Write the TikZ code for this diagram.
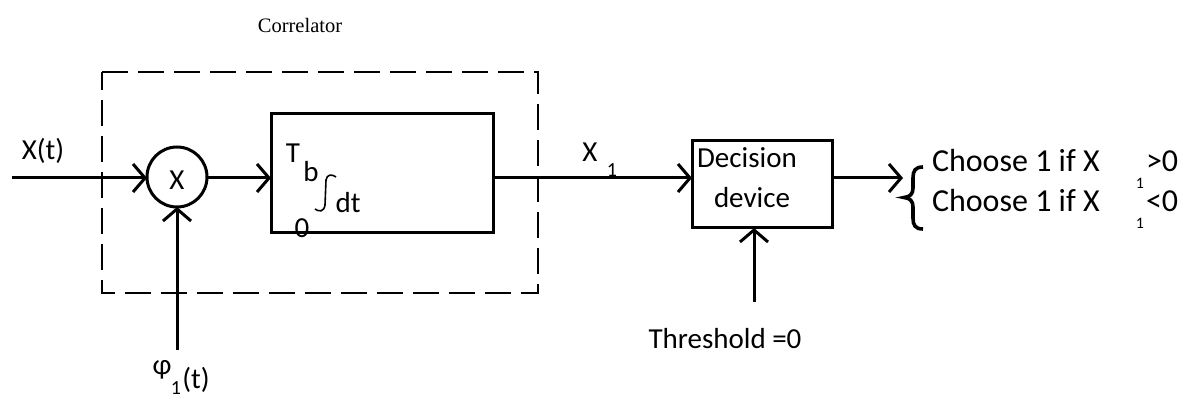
\documentclass[tikz,border=0pt]{standalone}
\usepackage{fontspec}
\setmainfont{Carlito}
\newfontfamily\tms{Liberation Serif}
\usetikzlibrary{arrows.meta}
\begin{document}
\begin{tikzpicture}[x=1pt,y=-1pt,
  every node/.style={inner sep=0pt,outer sep=0pt},
  txt/.style={font=\fontsize{29}{34}\selectfont},
  big/.style={font=\fontsize{32}{38}\selectfont},
  small/.style={font=\fontsize{16}{18}\selectfont},
  blk/.style={draw,line width=3pt,rectangle},
  sig/.style={line width=3pt,-{Straight Barb[length=12pt,width=28pt,line width=3pt]}},
  wire/.style={line width=3pt}]
\useasboundingbox (0,0) rectangle (1189,398);
% correlator frame
\draw[line width=2.2pt,dash pattern=on 26pt off 10pt] (102,72) -- (538,72) -- (538,293) -- (102,293) -- cycle;
\node[minimum width=436pt,minimum height=221pt] (corr) at (320,182.5) {};
\node[font=\tms\fontsize{20.5}{24}\selectfont] (corrlbl) at (300,25) {Correlator};
% multiplier
\node[draw,circle,line width=3pt,minimum size=60pt] (mul) at (177,177) {};
\node[txt] (mullbl) at (177,180) {X};
% integrator
\node[blk,minimum width=222pt,minimum height=119pt] (integ) at (382,173.5) {};
\node[txt] (T) at (293,153) {T};
\node[txt] (b) at (311,172) {b};
\node[txt] (dt) at (348,203) {dt};
\node[txt] (zero) at (302,228) {0};
\draw[line width=1.6pt] (336,177) .. controls (332,174) and (327,174) .. (326,180) -- (325,205) .. controls (324,212) and (319,212) .. (315,209);
% decision
\node[blk,minimum width=140pt,minimum height=87pt] (dec) at (762,184.5) {};
\node[txt] (declbl) at (747,158) {Decision};
\node[txt] (declbl2) at (752,198) {device};
% inputs
\coordinate (in) at (12,178);
\node[txt] (xt) at (43,151) {X(t)};
\draw[sig] (in) -- (mul.west |- in);
\coordinate (phis) at (177,350);
\draw[sig] (phis) -- (mul.south);
\node[txt] (phi) at (162,370) {φ};
\node[font=\fontsize{20}{24}\selectfont] (phisub) at (176,388) {1};
\node[txt] (phit) at (196,380) {(t)};
% main chain
\draw[sig] (mul.east |- in) -- (integ.west |- in);
\draw[sig] (integ.east |- in) -- (dec.west |- in);
\node[txt] (x1) at (590,152) {X};
\node[font=\fontsize{20}{24}\selectfont] (x1sub) at (612,170) {1};
% threshold
\coordinate (ths) at (754,302);
\draw[sig] (ths) -- (dec.south -| ths);
\node[txt] (thlbl) at (725,339) {Threshold =0};
% output
\coordinate (outend) at (903,178);
\draw[sig] (dec.east |- outend) -- (outend);
\draw[line width=3.6pt] (923,167) .. controls (915,167) and (913,171) .. (913,178) -- (913,188)
  .. controls (913,194) and (910,197) .. (904,197.5)
  .. controls (910,198) and (913,201) .. (913,207) -- (913,218)
  .. controls (913,225) and (915,229) .. (923,229);
\node[minimum width=20pt,minimum height=62pt] (brace) at (913,198) {};
\node[big,anchor=base west] (c1) at (932,172) {Choose 1 if X};
\node[small] (c1s) at (1140,183) {1};
\node[big,anchor=base west] (c1r) at (1146,172) {>0};
\node[big,anchor=base west] (c2) at (932,212) {Choose 1 if X};
\node[small] (c2s) at (1140,223) {1};
\node[big,anchor=base west] (c2r) at (1146,212) {<0};
\end{tikzpicture}
\end{document}
